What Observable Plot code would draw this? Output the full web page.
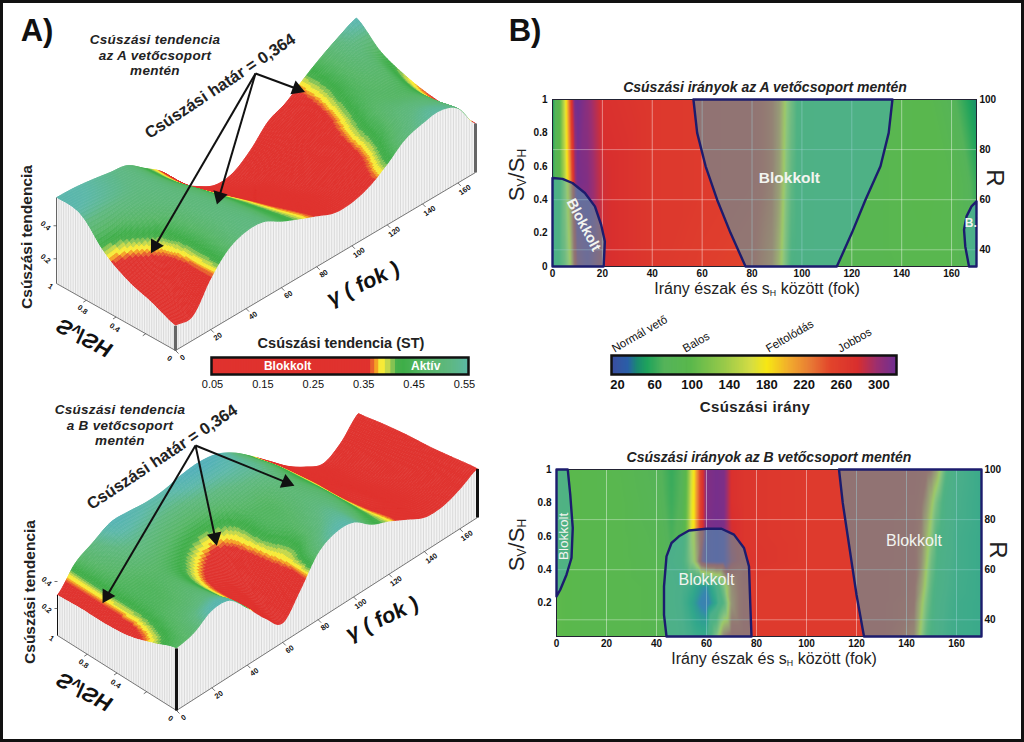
<!DOCTYPE html>
<html><head><meta charset="utf-8">
<script src="https://cdn.jsdelivr.net/npm/d3@7"></script>
<script src="https://cdn.jsdelivr.net/npm/@observablehq/plot@0.6"></script>
<style>
html,body{margin:0;padding:0;background:#fff}
#fig{position:relative;width:1024px;height:742px;overflow:hidden;font-family:"Liberation Sans",Arial,sans-serif;color:#111}
#fig>svg,#fig>div.p{position:absolute}
.lab{position:absolute;white-space:nowrap;transform-origin:center;text-align:center;line-height:1}
.lab sub{font-size:.55em;vertical-align:baseline;position:relative;top:.2em}
#border{position:absolute;left:0;top:0;width:1024px;height:742px;box-sizing:border-box;border:3px solid #111;pointer-events:none}
</style></head><body><div id="fig"><div id="border"></div></div>
<script>
// ---------- Slip tendency surfaces: ST at gamma = 0,10..170 for each SV/SH row ----------
const gammaGrid = [0,10,20,30,40,50,60,70,80,90,100,110,120,130,140,150,160,170];
const ratioGrid = [0,0.2,0.4,0.6,0.8,1];
const stA_00 = [.20,.195,.355,.47,.515,.51,.45,.40,.355,.31,.31,.345,.415,.50,.535,.55,.50,.347];
const stA_02 = [.26,.28,.36,.46,.51,.50,.44,.38,.33,.28,.27,.31,.364,.44,.50,.51,.47,.35];
const stA_04 = [.31,.34,.39,.47,.51,.49,.42,.35,.29,.24,.22,.27,.33,.41,.47,.47,.45,.364];
const stA_06 = [.40,.42,.47,.50,.51,.47,.385,.30,.24,.19,.18,.24,.31,.364,.44,.47,.47,.40];
const stA_08 = [.55,.54,.53,.52,.51,.44,.345,.25,.17,.12,.12,.19,.27,.33,.41,.47,.50,.46];
const stA_10 = [.57,.565,.55,.53,.51,.43,.345,.21,.13,.075,.085,.16,.27,.32,.40,.47,.53,.58];
const stB_00 = [.46,.49,.57,.56,.42,.26,.14,.30,.49,.56,.55,.45,.39,.32,.25,.245,.29,.36];
const stB_02 = [.39,.46,.49,.50,.39,.30,.21,.35,.42,.50,.53,.47,.37,.31,.24,.21,.25,.33];
const stB_04 = [.33,.44,.46,.47,.39,.33,.29,.375,.45,.47,.50,.47,.35,.30,.20,.16,.20,.30];
const stB_06 = [.31,.44,.46,.47,.44,.40,.375,.40,.46,.47,.50,.45,.34,.25,.15,.11,.16,.28];
const stB_08 = [.31,.44,.49,.52,.51,.49,.48,.50,.52,.54,.53,.44,.31,.20,.11,.07,.12,.25];
const stB_10 = [.30,.45,.52,.585,.58,.565,.57,.60,.61,.585,.51,.40,.28,.16,.07,.01,.08,.215];

const stStops  = [.05,.364,.364,.372,.372,.38,.38,.393,.393,.403,.403,.413,.413,.43,.47,.52,.56,.60];
const stColors = ["#e0332f","#e0332f","#e8622e","#e8622e","#f5a226","#f5a226","#f7ea38","#f7ea38","#c4d74b","#c4d74b","#86c354","#86c354","#4ab04e","#3fae49","#58b768","#5fb880","#5cb8a8","#52b0b8"];
const stTicks  = [.05,.15,.25,.35,.45,.55];

// ---------- Slip direction fields ----------
const dirStops  = [14,31,41,52,70,98,134,163,180,205,227,248,277,298,319];
const dirColors = ["#3b4ea0","#2a5fa8","#1a8a70","#1fa35c","#55b35a","#5ab84c","#98c94a","#d4dd44","#f7e714","#f1a92e","#e87a35","#e2452c","#d92f2e","#9c2f70","#6e2f92"];
const dirTicks  = [20,60,100,140,180,220,260,300];
const dirNames  = ["Normál vető","Balos","Feltolódás","Jobbos"];
const dirNameAt = [15,91,180,257];

const fieldA_cols = [0,1,3,5,6,7,8,9,10,14,20,40,60,80,88,91,93,94,95,96,98,102,110,130,150,160,166,170];
const fieldA_r10 = [45,70,100,165,200,240,285,316,319,305,275,265,262,258,240,220,185,165,150,135,100,88,85,88,95,75,55,42];
const fieldA_r05 = [50,75,100,150,180,210,250,295,315,310,280,265,262,258,240,215,175,150,135,115,92,88,85,88,95,90,75,60];
const fieldA_r00 = [55,80,105,135,155,175,215,260,290,300,280,265,258,250,230,195,155,135,110,95,90,88,85,88,92,90,80,70];

const fieldB_cols = [0,10,25,40,46,50,52,54,55,56,58,60,64,67,70,75,100,130,143,146,148,150,152,154,156,160,170];
const fieldB_r10 = [100,95,90,75,60,70,100,165,180,210,262,310,315,312,275,268,262,262,262,258,255,245,215,165,105,70,58];
const fieldB_r08 = [100,95,92,78,62,72,105,170,182,212,262,310,315,312,275,268,262,262,260,250,225,190,145,105,80,68,58];
const fieldB_r06 = [100,95,92,82,66,75,110,172,182,215,265,312,316,312,280,268,262,262,258,240,200,160,105,85,75,65,58];
const fieldB_r045= [100,95,92,85,72,85,115,160,175,205,290,312,316,312,285,270,262,262,258,230,185,135,100,80,72,65,58];
const fieldB_r03 = [100,95,92,88,76,70,66,60,55,50,40,35,70,150,230,262,262,262,255,210,165,115,85,78,70,64,58];
const fieldB_r02 = [100,95,92,88,76,68,60,50,45,38,28,22,55,110,225,262,262,262,250,190,145,105,80,72,68,62,58];
const fieldB_r00 = [100,95,92,88,78,72,68,65,62,60,58,58,150,240,262,262,262,262,235,165,115,95,75,70,66,62,58];

// ---------- Blocked regions (direction, ratio) ----------
const blockA1 = [[0,0],[0,.53],[4,.525],[8,.5],[13,.44],[17,.36],[19.5,.25],[21,.15],[20.5,0],[0,0]];
const blockA2 = [[56.5,1],[58,.8],[61.4,.6],[66,.4],[71.4,.2],[77.4,0],[114,0],[120,.2],[125.5,.4],[131.5,.6],[134.8,.8],[136.3,1],[56.5,1]];
const blockA3 = [[170,.39],[168,.36],[166,.3],[165,.22],[165.5,.12],[167,0],[170,0],[170,.39]];
const blockB1 = [[0,1],[4.5,1],[5.5,.85],[6.5,.65],[6,.47],[4,.37],[1.5,.28],[0,.24],[0,1]];
const blockB2 = [[44,0],[43,.13],[43,.3],[44,.48],[46,.56],[49,.6],[53,.635],[60,.645],[66,.645],[71,.61],[75,.53],[77,.42],[77.5,.2],[78,0],[44,0]];
const blockB3 = [[113,1],[114.5,.8],[116.5,.6],[118,.45],[120,.25],[123,0],[170,0],[170,1],[113,1]];

const xTicks = [0,20,40,60,80,100,120,140,160];
const rAxisTicks = [100,80,60,40];
const ratioTicksA = [0,.2,.4,.6,.8,1];
const ratioTicksB = [.2,.4,.6,.8,1];

// ---------- Shared helpers ----------
const fig = document.getElementById("fig");
const FONT = '"Liberation Sans",Arial,sans-serif';
function place(plot,left,top){ plot.style.position="absolute"; plot.style.left=left+"px"; plot.style.top=top+"px"; plot.style.overflow="visible"; fig.insertBefore(plot,document.getElementById("border")); }
function label(html,cx,cy,css,rot=0){ const d=document.createElement("div"); d.className="lab"; d.innerHTML=html; d.style.cssText=`left:${cx}px;top:${cy}px;transform:translate(-50%,-50%) rotate(${rot}deg);${css}`; fig.insertBefore(d,document.getElementById("border")); }
function warp(a,b,c,d){ return { render(i,s,v,dim,ctx,next){ const g=next(i,s,v,dim,ctx); d3.select(g).selectAll("text").attr("transform",function(){ const m=/translate\(([^,]+),([^)]+)\)/.exec(this.getAttribute("transform")); return `translate(${m[1]},${m[2]}) matrix(${a},${b},${c},${d},0,0)`; }); return g; } }; }

function cr(p0,p1,p2,p3,t){ return .5*((2*p1)+(-p0+p2)*t+(2*p0-5*p1+4*p2-p3)*t*t+(-p0+3*p1-3*p2+p3)*t*t*t); }
function sampler(rows){ // smooth rendering of the read grid
  const ny=rows.length,nx=rows[0].length,c=(i,n)=>Math.max(0,Math.min(n-1,i));
  return (g,r)=>{ const u=g/10,w=r/.2,i=Math.min(Math.floor(u),nx-2),j=Math.min(Math.floor(w),ny-2),tu=u-i,tw=w-j;
    const col=[-1,0,1,2].map(dj=>{const R=rows[c(j+dj,ny)];return cr(R[c(i-1,nx)],R[c(i,nx)],R[c(i+1,nx)],R[c(i+2,nx)],tu);});
    return cr(col[0],col[1],col[2],col[3],tw); };
}

function surfacePlot(cfg){
  const zAt=sampler(cfg.rows),P=cfg.P,nG=340,nR=50,dg=170/nG,dr=1/nR,cells=[];let id=0;
  for(let jr=nR-1;jr>=0;jr--) for(let ig=nG-1;ig>=0;ig--){
    const g=ig*dg,rr=jr*dr,v=zAt(g+dg/2,rr+dr/2);
    for(const [a,b] of [[g,rr],[g+dg,rr],[g+dg,rr+dr],[g,rr+dr]]){ const q=P(a,b,zAt(Math.min(170,a),Math.min(1,b))); cells.push({x:q[0],y:q[1],id,v}); }
    id++;
  }
  const fr=d3.range(0,170.01,1.5).map(g=>{const a=P(g,0,cfg.z0),b=P(g,0,zAt(g,0));return {x1:a[0],y1:a[1],x2:b[0],y2:b[1]};});
  const lr=d3.range(0,1.001,.02).map(r=>{const a=P(0,r,cfg.z0),b=P(0,r,zAt(0,Math.min(1,r)));return {x1:a[0],y1:a[1],x2:b[0],y2:b[1]};});
  const poly=L=>[...L.map(d=>({x:d.x1,y:d.y1})),...L.slice().reverse().map(d=>({x:d.x2,y:d.y2}))];
  const corners=[[0,0,cfg.cornerW],[170,0,cfg.cornerW],[0,1,1]].map(([g,r,w])=>{const a=P(g,r,cfg.z0),b=P(g,r,zAt(g,r));return{x1:a[0],y1:a[1],x2:b[0],y2:b[1],w};});
  const gTicksD=[0,20,40,60,80,100,120,140,160].map(g=>{const p=P(g,0,cfg.z0);return{x:p[0]+7,y:p[1]+7,t:String(g),tx:p[0],ty:p[1]};});
  const rD=[["0",0],["0.4",.46],["0.8",.73],["1",1]].map(([t,at])=>{const p=P(0,at,cfg.z0);return{x:p[0]-6,y:p[1]+(at==1?3:8),t};});
  const rTicks=[.25,.5,.75].map(r=>{const p=P(0,r,cfg.z0);return{x1:p[0],y1:p[1],x2:p[0]-3,y2:p[1]+2};});
  const zD=[.2,.4].map(z=>{const p=P(0,1,z);return{x:p[0]-11,y:p[1],t:String(z),tx:p[0],ty:p[1]};});
  const arrows=cfg.tips.map(([g,r])=>{const p=P(g,r,.364),dx=p[0]-cfg.tail[0],dy=p[1]-cfg.tail[1],L=Math.hypot(dx,dy);
    return{x1:cfg.tail[0],y1:cfg.tail[1],x2:p[0]-dx/L*8,y2:p[1]-dy/L*8,cx:p[0]-dx/L*7.7,cy:p[1]-dy/L*7.7,rot:Math.atan2(dx,-dy)*180/Math.PI};});
  return Plot.plot({width:500,height:742,margin:0,style:{background:"transparent",fontFamily:FONT},
    x:{domain:[0,500],range:[0,500],axis:null},y:{domain:[0,742],range:[0,742],axis:null},
    color:{type:"linear",domain:stStops,range:stColors,clamp:true},
    marks:[
      Plot.line(cells,{x:"x",y:"y",z:"id",fill:"v",stroke:"v",strokeWidth:.9,strokeLinejoin:"round"}),
      Plot.line(poly(fr),{x:"x",y:"y",fill:"#f3f3f3",stroke:"none"}),
      Plot.line(poly(lr),{x:"x",y:"y",fill:"#f3f3f3",stroke:"none"}),
      Plot.link(fr,{x1:"x1",y1:"y1",x2:"x2",y2:"y2",stroke:"#c9c9c9",strokeWidth:.6}),
      Plot.link(lr,{x1:"x1",y1:"y1",x2:"x2",y2:"y2",stroke:"#c9c9c9",strokeWidth:.6}),
      Plot.link([[P(0,1,cfg.z0),P(0,0,cfg.z0)],[P(0,0,cfg.z0),P(170,0,cfg.z0)]],{x1:d=>d[0][0],y1:d=>d[0][1],x2:d=>d[1][0],y2:d=>d[1][1],stroke:"#555",strokeWidth:.8}),
      Plot.link(corners,{x1:"x1",y1:"y1",x2:"x2",y2:"y2",stroke:cfg.cornerColor,strokeWidth:"w"}),
      Plot.link(gTicksD,{x1:"tx",y1:"ty",x2:d=>d.tx+3,y2:d=>d.ty+3,stroke:"#333",strokeWidth:.7}),
      Plot.link(rTicks,{x1:"x1",y1:"y1",x2:"x2",y2:"y2",stroke:"#333",strokeWidth:.7}),
      Plot.link(zD,{x1:"tx",y1:"ty",x2:d=>d.tx-3,y2:"ty",stroke:"#333",strokeWidth:.7}),
      Plot.text(gTicksD,{x:"x",y:"y",text:"t",rotate:-35,fontSize:7.5,fontWeight:"bold",fill:"#111"}),
      Plot.text(rD,{x:"x",y:"y",text:"t",rotate:35,fontSize:7.5,fontWeight:"bold",fill:"#111"}),
      Plot.text(zD,{x:"x",y:"y",text:"t",rotate:40,fontSize:7.5,fontWeight:"bold",fill:"#111"}),
      Plot.text(["γ ( fok )"],{x:cfg.gammaAt[0],y:cfg.gammaAt[1],text:d=>d,fontSize:24,fontWeight:"bold",fill:"#111",...warp(.82,-.38,.3,.85)}),
      Plot.text(["Sᵥ/SH"],{x:cfg.ratioAt[0],y:cfg.ratioAt[1],text:d=>d,fontSize:23,fontWeight:"bold",fill:"#111",...warp(.85,.45,.55,-.75)}),
      Plot.link(arrows,{x1:"x1",y1:"y1",x2:"x2",y2:"y2",stroke:"#111",strokeWidth:2}),
      Plot.dot(arrows,{x:"cx",y:"cy",symbol:"triangle",r:5.5,fill:"#111",stroke:"none",rotate:"rot"})
    ]});
}

const PA=(g,r,z)=>[175+g/170*300-r*119,350-g/170*178-r*67-(z-.05)*165];
const PB=(g,r,z)=>[176+g/170*301-r*119,710-g/170*193-r*75-z*135];
place(surfacePlot({rows:[stA_00,stA_02,stA_04,stA_06,stA_08,stA_10],P:PA,z0:.05,cornerW:3,cornerColor:"#666",tips:[[137,.95],[58,.51],[16,.44]],tail:[255,73],gammaAt:[363,283],ratioAt:[84,337]}),0,0);
place(surfacePlot({rows:[stB_00,stB_02,stB_04,stB_06,stB_08,stB_10],P:PB,z0:0,cornerW:3,cornerColor:"#111",tips:[[111,.667],[63,.6],[5.5,.7]],tail:[195,445],gammaAt:[382,618],ratioAt:[84,691]}),0,0);

// ---------- ST colour bar ----------
place(Plot.plot({width:284,height:34,marginLeft:11,marginRight:16,marginTop:2,marginBottom:15,style:{background:"transparent",fontFamily:FONT,fontSize:"11px"},
  x:{domain:[.048,.558],axis:null},y:{domain:[0,1],axis:null},color:{type:"linear",domain:stStops,range:stColors,clamp:true},
  marks:[
    Plot.rect(d3.range(.048,.558,.001),{x1:d=>d,x2:d=>Math.min(.558,d+.004),y1:0,y2:1,fill:d=>d}),
    Plot.frame({stroke:"#111",strokeWidth:2.5}),
    Plot.axisX({ticks:stTicks,tickSize:0,tickPadding:6,tickFormat:d=>d.toFixed(2),label:null,fontSize:11}),
    Plot.text(["Blokkolt"],{x:.199,y:.5,text:d=>d,fill:"#fff",fontWeight:"bold",fontSize:12}),
    Plot.text(["Aktív"],{x:.473,y:.5,text:d=>d,fill:"#fff",fontWeight:"bold",fontSize:12})
  ]}),200,355);

// ---------- Direction colour bar ----------
place(Plot.plot({width:305,height:72,marginLeft:10,marginRight:10,marginTop:36,marginBottom:17,style:{background:"transparent",fontFamily:FONT},
  x:{domain:[13.6,319],axis:null},y:{domain:[0,1],axis:null},color:{type:"linear",domain:dirStops,range:dirColors},
  marks:[
    Plot.rect(d3.range(14,319,1),{x1:d=>d,x2:d=>Math.min(319,d+3),y1:0,y2:1,fill:d=>d}),
    Plot.frame({stroke:"#111",strokeWidth:2.5}),
    Plot.axisX({ticks:dirTicks,tickSize:0,tickPadding:5,label:null,fontSize:13,fontWeight:"bold"}),
    Plot.text(dirNames,{x:(d,i)=>dirNameAt[i],y:1,dy:-6,text:d=>d,textAnchor:"start",rotate:-30,fontSize:11.5,fill:"#111"})
  ]}),601,319);

// ---------- Direction maps ----------
function fieldRows(cols,rows,ratios){ return rows.flatMap((row,j)=>row.map((v,i)=>({g:cols[i],r:ratios[j],v}))); }
function mapPlot(opts){
  const pts=L=>L.map(([g,r])=>({g,r}));
  return Plot.plot({width:opts.w+70,height:193,marginLeft:30,marginRight:40,marginTop:10,marginBottom:16,style:{background:"transparent",fontFamily:FONT,fontSize:"10px",fontWeight:"bold"},
    x:{domain:[0,170]},y:{domain:[0,1]},color:{type:"linear",domain:dirStops,range:dirColors,clamp:true},
    marks:[
      Plot.raster(opts.field,{x:"g",y:"r",fill:"v",interpolate:"barycentric",pixelSize:1}),
      Plot.ruleX(xTicks.slice(1),{stroke:"#fff",strokeOpacity:.55,strokeWidth:.8}),
      Plot.ruleY(rAxisTicks.slice(1).map(R=>(R-33.33)/66.67),{stroke:"#fff",strokeOpacity:.45,strokeWidth:.8}),
      Plot.frame({stroke:"#223",strokeWidth:1}),
      ...opts.blocks.map(b=>Plot.line(pts(b),{x:"g",y:"r",fill:"#43acb9",fillOpacity:.5,stroke:"#1c1c6e",strokeWidth:2.4,strokeLinejoin:"round"})),
      Plot.axisX({ticks:xTicks,tickSize:0,tickPadding:3,label:null,fontSize:10}),
      Plot.axisY({ticks:opts.ratioTicks,tickSize:0,tickPadding:5,label:null,tickFormat:d=>String(d),fontSize:10}),
      Plot.axisY({anchor:"right",ticks:rAxisTicks.map(R=>(R-33.33)/66.67),tickSize:0,tickPadding:3,label:null,tickFormat:d=>Math.round(33.33+66.67*d),fontSize:10}),
      ...opts.labels.map(l=>Plot.text([l.t],{x:l.g,y:l.r,text:d=>d,rotate:l.rot||0,fill:"#f2f4f0",fontSize:l.fs,fontWeight:l.w}))
    ]});
}
place(mapPlot({w:424,ratioTicks:ratioTicksA,field:fieldRows(fieldA_cols,[fieldA_r00,fieldA_r05,fieldA_r10],[0,.5,1]),blocks:[blockA1,blockA2,blockA3],
  labels:[{t:"Blokkolt",g:95,r:.53,fs:15.5,w:"bold"},{t:"Blokkolt",g:12.5,r:.25,rot:62,fs:14.5,w:"bold"},{t:"B.",g:167.7,r:.26,fs:12,w:"bold"}]}),522,89);
place(mapPlot({w:425,ratioTicks:ratioTicksB,field:fieldRows(fieldB_cols,[fieldB_r00,fieldB_r02,fieldB_r03,fieldB_r045,fieldB_r06,fieldB_r08,fieldB_r10],[0,.2,.3,.45,.6,.8,1]),blocks:[blockB1,blockB2,blockB3],
  labels:[{t:"Blokkolt",g:3,r:.6,rot:-90,fs:13.5,w:"normal"},{t:"Blokkolt",g:60,r:.34,fs:16,w:"normal"},{t:"Blokkolt",g:143,r:.57,fs:16,w:"normal"}]}),526,459);

// ---------- Text ----------
label("A)",37,31,"font:bold 31px "+FONT);
label("B)",525,31,"font:bold 31px "+FONT);
const noteCss="font:italic bold 13.5px/15.5px "+FONT+";letter-spacing:.3px;color:#222";
label("Csúszási tendencia<br>az A vetőcsoport<br>mentén",155,55,noteCss);
label("Csúszási tendencia<br>a B vetőcsoport<br>mentén",120,425,noteCss);
const limitCss="font:bold 16.5px "+FONT+";color:#222";
label("Csúszási határ = 0,364",220,86,limitCss,-33.5);
label("Csúszási határ = 0,364",162,457,limitCss,-33.5);
const stCss="font:bold 15.5px "+FONT+";color:#222";
label("Csúszási tendencia",27,237,stCss,-90);
label("Csúszási tendencia",30,592,stCss,-90);
label("Csúszási tendencia (ST)",341,343,"font:bold 14.5px "+FONT+";color:#222");
label("Csúszási irány",755,406,"font:bold 15px "+FONT+";color:#222;letter-spacing:.4px");
const titleCss="font:italic bold 14px "+FONT+";color:#222";
label("Csúszási irányok az A vetőcsoport mentén",765,87,titleCss);
label("Csúszási irányok az B vetőcsoport mentén",769,457,titleCss);
const xlabCss="font:16px "+FONT+";color:#222";
label("Irány észak és s<sub>H</sub> között (fok)",757,289,xlabCss);
label("Irány észak és s<sub>H</sub> között (fok)",774,659,xlabCss);
const ylabCss="font:22px "+FONT+";color:#222";
label("S<sub>V</sub>/S<sub>H</sub>",517,175,ylabCss,-90);
label("S<sub>V</sub>/S<sub>H</sub>",517,545,ylabCss,-90);
label("R",995,178,"font:24px "+FONT+";color:#222",90);
label("R",998,550,"font:24px "+FONT+";color:#222",90);
</script></body></html>
